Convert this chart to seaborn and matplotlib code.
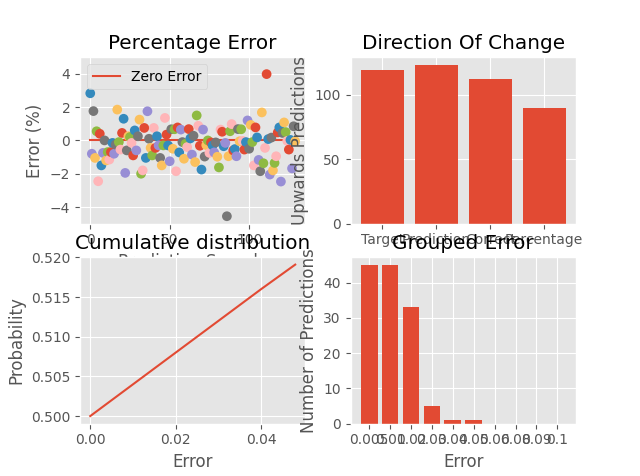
import matplotlib
matplotlib.use("Agg")
import matplotlib.pyplot as plt
import seaborn as sns

plt.style.use('ggplot')

# percentage error for each prediction sample
errors = [
    2.83, -0.8, 1.76, -1.05, 0.55, -2.45, 0.4, -1.5, -0.75, 0.0,
    -1.2, -0.7, -1.15, -0.7, -0.15, -0.8, -0.25, 1.85, -0.1, -0.55,
    0.45, 1.3, -1.95, -0.6, 0.25, 0.2, -0.15, -0.9, 0.6, -0.6,
    0.25, 1.25, -2.0, -1.8, 0.75, -1.05, 1.75, 0.1, -0.45, -0.9,
    0.75, -0.45, 0.25, -0.3, -1.05, -1.5, -0.3, 1.35, 0.35, -0.3,
    -1.25, 0.67, -0.5, 0.67, -1.85, 0.78, -0.72, 0.65, -0.1, -1.1,
    -0.2, -0.4, 0.68, 0.12, -0.85, 0.28, -1.3, 1.5, 0.88, -0.32,
    -1.75, 0.65, -0.97, -0.28, 0.0, -0.75, -0.12, -0.3, -0.72, -0.12,
    -0.98, -1.62, 0.65, 0.52, -0.35, -0.15, -4.55, -0.95, 0.55, 0.98,
    -0.6, -0.52, -0.95, 0.68, -0.05, 0.67, -0.03, -0.55, -0.1, 1.2,
    -0.5, 0.93, -0.1, -1.5, 0.78, 0.18, -1.17, -1.85, 1.68, -1.37,
    -0.45, 3.98, 0.08, -2.05, 0.17, -1.8, -1.35, -0.95, 0.48, 0.78,
    -2.47, 0.45, 1.08, 0.5, -0.03, -0.55, 0.03, -1.68, 0.85, -0.05,
]
samples = list(range(len(errors)))
zero_line = [0.0] * len(errors)

direction_labels = ['Target', 'Prediction', 'Correct', 'Percentage']
direction_counts = [119, 123, 112, 90]

cdf_x = [0.0, 0.008, 0.016, 0.024, 0.032, 0.04, 0.048]
cdf_p = [0.5, 0.5032, 0.5064, 0.5096, 0.5128, 0.516, 0.5191]

group_labels = ['0.005', '0.01', '0.02', '0.03', '0.04', '0.05', '0.06', '0.08', '0.09', '0.1']
group_counts = [45, 45, 33, 5, 1, 1, 0, 0, 0, 0]

cycle = plt.rcParams['axes.prop_cycle'].by_key()['color']
bar_color = cycle[0]
keys = [str(i) for i in samples]
palette = {k: cycle[(i + 1) % len(cycle)] for i, k in enumerate(keys)}

fig, axes = plt.subplots(2, 2, figsize=(6.4, 4.76))

# percentage error scatter
ax = axes[0, 0]
sns.lineplot(x=samples, y=zero_line, color=bar_color, label='Zero Error', ax=ax)
sns.scatterplot(x=samples, y=errors, hue=keys, palette=palette, legend=False,
                s=49, linewidth=0, zorder=3, ax=ax)
ax.set_ylim(-5, 5)
ax.set_title('Percentage Error')
ax.set_xlabel('Prediction Sample')
ax.set_ylabel('Error (%)')
ax.legend(loc='upper left')

# direction of change
ax = axes[0, 1]
sns.barplot(x=direction_labels, y=direction_counts, color=bar_color,
            saturation=1, linewidth=0, ax=ax)
ax.xaxis.grid(True)
ax.autoscale(enable=True, axis='x')
ax.set_title('Direction Of Change')
ax.set_ylabel('Upwards Predictions')

# cumulative distribution
ax = axes[1, 0]
sns.lineplot(x=cdf_x, y=cdf_p, color=bar_color, ax=ax)
ax.set_title('Cumulative distribution')
ax.set_xlabel('Error')
ax.set_ylabel('Probability')

# grouped error
ax = axes[1, 1]
sns.barplot(x=group_labels, y=group_counts, color=bar_color,
            saturation=1, linewidth=0, ax=ax)
ax.xaxis.grid(True)
ax.autoscale(enable=True, axis='x')
ax.set_title('Grouped Error')
ax.set_xlabel('Error')
ax.set_ylabel('Number of Predictions')

fig.savefig('out.png', dpi=100)
